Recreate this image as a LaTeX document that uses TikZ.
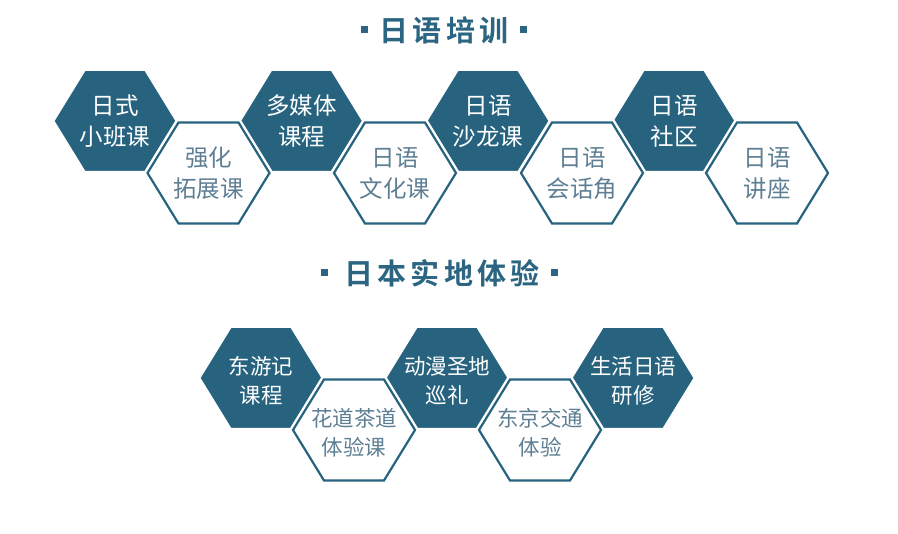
\documentclass[tikz,border=0pt]{standalone}
\usepackage{fontspec}
\setmainfont{Noto Sans CJK SC}
\newfontfamily\cjk{Noto Sans CJK SC}
\newfontfamily\cjktitle[LetterSpace=14]{Noto Sans CJK SC Bold}
\definecolor{hexblue}{HTML}{27637F}
\definecolor{hextext}{HTML}{5E7F93}
\definecolor{titleblue}{HTML}{2B6582}
\tikzset{
  hexa/.pic={\path[pic actions] (-61,0) -- (-30,-50.5) -- (30,-50.5) -- (61,0) -- (30,50.5) -- (-30,50.5) -- cycle;},
  hexfill/.style={fill=hexblue, draw=white, line width=1},
  hexhalo/.style={fill=white, draw=white, line width=7, line join=miter},
  hexline/.style={draw=hexblue, line width=2.2, line join=miter},
  filltxt/.style={text=white, align=center, font=\cjk\fontsize{23.5}{31}\selectfont},
  linetxt/.style={text=hextext, align=center, font=\cjk\fontsize{23.5}{31}\selectfont},
  filltxtb/.style={text=white, align=center, font=\cjk\fontsize{21.5}{29}\selectfont},
  linetxtb/.style={text=hextext, align=center, font=\cjk\fontsize{21.5}{29}\selectfont},
  titletxt/.style={text=titleblue, font=\cjktitle\fontsize{29}{34}\selectfont},
  sq/.style={fill=titleblue, minimum size=7, inner sep=0, draw=none}
}
\begin{document}
\begin{tikzpicture}[x=1pt,y=-1pt]
\useasboundingbox[fill=white] (0,0) rectangle (898,534);
% titles
\node[titletxt] (t1) at (444,30) {日语培训};
\node[sq] (t1l) at (364,30) {};
\node[sq] (t1r) at (523,30) {};
\node[titletxt] (t2) at (442,273) {日本实地体验};
\node[sq] (t2l) at (324,273) {};
\node[sq] (t2r) at (554,273) {};
% row 1 filled
\foreach \x in {115,301.5,488,674} {\pic[hexfill] at (\x,121) {hexa};}
% row 1 outlined
\foreach \x in {208.5,395,582,767} {\pic[hexhalo] at (\x,173) {hexa}; \pic[hexline] at (\x,173) {hexa};}
\node[filltxt] (a1) at (115,121) {日式\\小班课};
\node[linetxt] (a2) at (208.5,173) {强化\\拓展课};
\node[filltxt] (a3) at (301.5,121) {多媒体\\课程};
\node[linetxt] (a4) at (395,173) {日语\\文化课};
\node[filltxt] (a5) at (488,121) {日语\\沙龙课};
\node[linetxt] (a6) at (582,173) {日语\\会话角};
\node[filltxt] (a7) at (674,121) {日语\\社区};
\node[linetxt] (a8) at (767,173) {日语\\讲座};
% row 2 filled
\foreach \x in {261,447,633} {\pic[hexfill] at (\x,378) {hexa};}
\foreach \x in {354,540} {\pic[hexhalo] at (\x,430) {hexa}; \pic[hexline] at (\x,430) {hexa};}
\node[filltxtb] (b1) at (261,381) {东游记\\课程};
\node[linetxtb] (b2) at (354,433) {花道茶道\\体验课};
\node[filltxtb] (b3) at (447,381) {动漫圣地\\巡礼};
\node[linetxtb] (b4) at (540,433) {东京交通\\体验};
\node[filltxtb] (b5) at (633,381) {生活日语\\研修};
\end{tikzpicture}
\end{document}
